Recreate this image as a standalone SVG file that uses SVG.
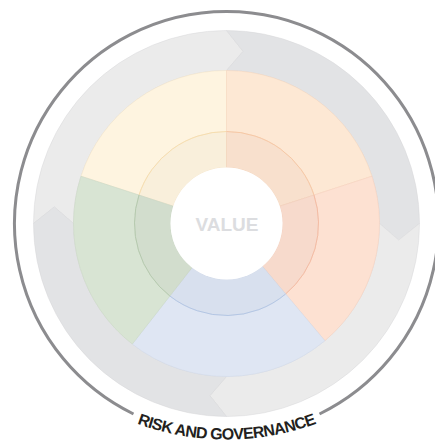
<svg xmlns="http://www.w3.org/2000/svg" width="435" height="442" viewBox="0 0 435 442">
<defs>
<style>
.gl{fill:#ebebeb;stroke:#d9d9db;stroke-width:0.5}
.gd{fill:#e2e3e5;stroke:#d6d7d9;stroke-width:0.5}
.sec{stroke-width:0.5}
.lbl{font-family:"Liberation Sans",Arial,sans-serif;font-weight:bold}
</style>
<path id="tp" d="M 96.5,404.7 A 260 260 0 0 0 356.5,404.7"/>
</defs>
<rect width="435" height="442" fill="#ffffff"/>
<g id="outer-ring">
<path d="M 133.5,414 A 212 212 0 1 1 319.5,414" fill="none" stroke="#8c8c8f" stroke-width="3"/>
</g>
<g id="cycle-arrows">
<path id="arrow-top-left" class="gl" d="M 33.5,223.5 A 193 193 0 0 1 226.5,30.5 L 243.08,51.30 L 226.5,70.5 A 153 153 0 0 0 73.5,223.5 L 54.30,206.92 Z"/>
<path id="arrow-top-right" class="gd" d="M 226.5,30.5 A 193 193 0 0 1 419.5,223.5 L 398.70,240.08 L 379.5,223.5 A 153 153 0 0 0 226.5,70.5 L 243.08,51.30 Z"/>
<path id="arrow-bottom-right" class="gl" d="M 419.5,223.5 A 193 193 0 0 1 226.5,416.5 L 209.92,395.70 L 226.5,376.5 A 153 153 0 0 0 379.5,223.5 L 398.70,240.08 Z"/>
<path id="arrow-bottom-left" class="gd" d="M 226.5,416.5 A 193 193 0 0 1 33.5,223.5 L 54.30,206.92 L 73.5,223.5 A 153 153 0 0 0 226.5,376.5 L 209.92,395.70 Z"/>
</g>
<g id="sector-yellow">
<path class="sec" fill="#fef4e0" stroke="#f3e3c4" d="M 80.99,176.22 A 153 153 0 0 1 226.5,70.5 L 226.5,131.5 A 92 92 0 0 0 139.00,195.07 Z"/>
<path class="sec" fill="#f9efdb" stroke="#f0dfc0" d="M 139.00,195.07 A 92 92 0 0 1 226.5,131.5 L 226.5,167.5 A 56 56 0 0 0 173.24,206.20 Z"/>
<path d="M 139.00,195.07 A 92 92 0 0 1 226.5,131.5" fill="none" stroke="#f6d79a" stroke-width="0.6"/>
</g>
<g id="sector-orange">
<path class="sec" fill="#fde8d4" stroke="#f4d3b8" d="M 226.5,70.5 A 153 153 0 0 1 372.01,176.22 L 314.00,195.07 A 92 92 0 0 0 226.5,131.5 Z"/>
<path class="sec" fill="#f8e0cd" stroke="#f1cdb0" d="M 226.5,131.5 A 92 92 0 0 1 314.00,195.07 L 279.76,206.20 A 56 56 0 0 0 226.5,167.5 Z"/>
<path d="M 226.5,131.5 A 92 92 0 0 1 314.00,195.07" fill="none" stroke="#f6bd94" stroke-width="0.6"/>
</g>
<g id="sector-peach">
<path class="sec" fill="#fde1d2" stroke="#f4cdb8" d="M 372.01,176.22 A 153 153 0 0 1 324.85,340.70 L 285.64,293.98 A 92 92 0 0 0 314.00,195.07 Z"/>
<path class="sec" fill="#f7dacc" stroke="#efc7b2" d="M 314.00,195.07 A 92 92 0 0 1 285.64,293.98 L 262.50,266.40 A 56 56 0 0 0 279.76,206.20 Z"/>
<path d="M 314.00,195.07 A 92 92 0 0 1 285.64,293.98" fill="none" stroke="#f3ad90" stroke-width="0.6"/>
</g>
<g id="sector-blue">
<path class="sec" fill="#dfe6f3" stroke="#cdd6e8" d="M 324.85,340.70 A 153 153 0 0 1 132.30,344.07 L 169.86,296.00 A 92 92 0 0 0 285.64,293.98 Z"/>
<path class="sec" fill="#d8e0ee" stroke="#c8d2e4" d="M 285.64,293.98 A 92 92 0 0 1 169.86,296.00 L 192.02,267.63 A 56 56 0 0 0 262.50,266.40 Z"/>
<path d="M 285.64,293.98 A 92 92 0 0 1 169.86,296.00" fill="none" stroke="#9fb9df" stroke-width="0.6"/>
</g>
<g id="sector-green">
<path class="sec" fill="#d8e4d3" stroke="#c6d5c0" d="M 132.30,344.07 A 153 153 0 0 1 80.99,176.22 L 139.00,195.07 A 92 92 0 0 0 169.86,296.00 Z"/>
<path class="sec" fill="#d2ddcd" stroke="#c2d0bc" d="M 169.86,296.00 A 92 92 0 0 1 139.00,195.07 L 173.24,206.20 A 56 56 0 0 0 192.02,267.63 Z"/>
<path d="M 169.86,296.00 A 92 92 0 0 1 139.00,195.07" fill="none" stroke="#a6bf9d" stroke-width="0.6"/>
</g>
<g id="value">
<circle cx="226.5" cy="223.5" r="56" fill="#ffffff"/>
<text class="lbl" x="227" y="230.5" text-anchor="middle" font-size="19" fill="#dcdde0">VALUE</text>
</g>
<g id="risk-label">
<text class="lbl" font-size="16" letter-spacing="-0.7" fill="#231f20"><textPath href="#tp" startOffset="50%" text-anchor="middle">RISK AND GOVERNANCE</textPath></text>
</g>
</svg>
